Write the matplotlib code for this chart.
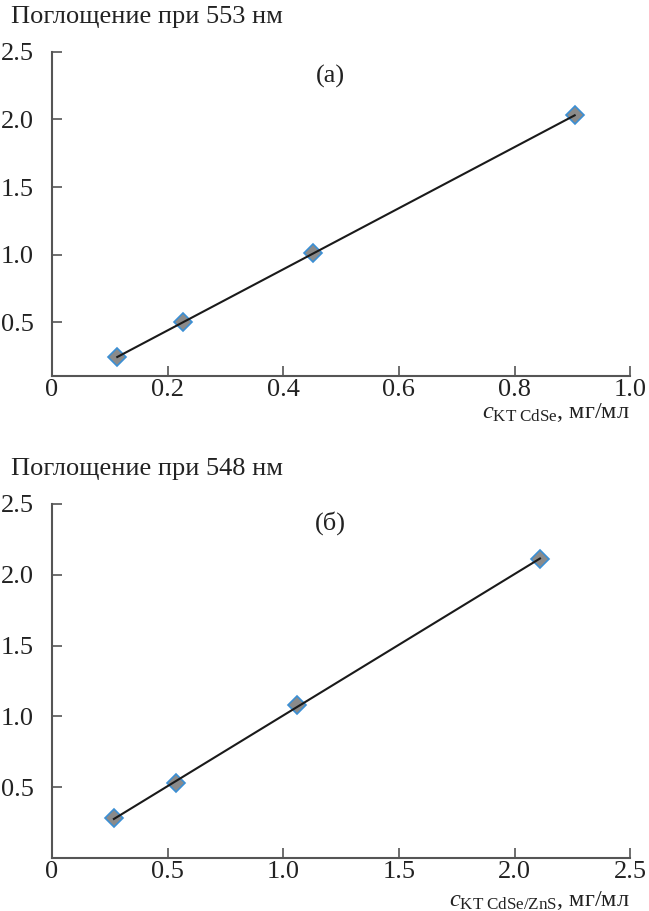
import matplotlib
matplotlib.use("Agg")
import matplotlib.pyplot as plt
import numpy as np

# panel (a): CdSe quantum dots
conc_a = [0.113, 0.226, 0.452, 0.904]
absorb_a = [0.24, 0.50, 1.01, 2.03]
# panel (б): CdSe/ZnS quantum dots
conc_b = [0.268, 0.535, 1.06, 2.11]
absorb_b = [0.28, 0.53, 1.08, 2.11]

xticks_a = [0, 0.2, 0.4, 0.6, 0.8, 1.0]
xticks_b = [0, 0.5, 1.0, 1.5, 2.0, 2.5]
yticks = [0.5, 1.0, 1.5, 2.0, 2.5]

plt.rcParams['font.family'] = ['Liberation Serif', 'DejaVu Serif']
plt.rcParams['mathtext.fontset'] = 'custom'
plt.rcParams['mathtext.rm'] = 'Liberation Serif'
plt.rcParams['mathtext.it'] = 'Liberation Serif:italic'

fig = plt.figure(figsize=(6.49, 9.11), dpi=100)
ax1 = fig.add_axes([0.080, 0.587, 0.891, 0.356])
ax2 = fig.add_axes([0.080, 0.058, 0.891, 0.389])

spine_col = '#555555'
txt_col = '#222222'
fs = 19


def draw(ax, x, y, xticks, xlim, ylim, tag, tag_y, ylabel, xlabel, xl_off):
    k, b = np.polyfit(x, y, 1)
    xs = np.array([min(x), max(x)])
    ax.plot(x, y, 'D', ms=9.5, mfc='#8a8a8a', mec='#3b8fd4', mew=1.2, zorder=2)
    ax.plot(xs, k * xs + b, color='#1a1a1a', lw=1.5, zorder=3)
    ax.set_xlim(xlim)
    ax.set_ylim(ylim)
    ax.set_xticks(xticks)
    ax.set_xticklabels(['0'] + ['%.1f' % t for t in xticks[1:]])
    ax.set_yticks(yticks)
    ax.set_yticklabels(['%.1f' % t for t in yticks])
    for s in ['top', 'right']:
        ax.spines[s].set_visible(False)
    for s in ['left', 'bottom']:
        ax.spines[s].set_color(spine_col)
        ax.spines[s].set_linewidth(1.5)
    ax.tick_params(direction='in', length=7, width=1.2, color=spine_col,
                   labelsize=fs, labelcolor=txt_col)
    ax.tick_params(axis='y', pad=13)
    ax.tick_params(axis='x', pad=2)
    ax.text(0.481, tag_y, tag, fontsize=fs, ha='center', va='center',
            color=txt_col, transform=ax.transAxes)
    ax.annotate(ylabel, xy=(0, 1), xycoords='axes fraction',
                xytext=(-41, 35), textcoords='offset pixels',
                fontsize=fs, ha='left', va='center', color=txt_col)
    ax.annotate(xlabel, xy=(1, 0), xycoords='axes fraction',
                xytext=(0, xl_off), textcoords='offset pixels',
                fontsize=17.5, ha='right', va='center', color=txt_col)


draw(ax1, conc_a, absorb_a, xticks_a, (0, 1.0), (0.1, 2.5), '(а)', 0.925,
     'Поглощение при 553 нм', r'$c_{\mathrm{KT\ CdSe}}$, мг/мл', -36)
draw(ax2, conc_b, absorb_b, xticks_b, (0, 2.5), (0.0, 2.5), '(б)', 0.945,
     'Поглощение при 548 нм', r'$c_{\mathrm{KT\ CdSe/ZnS}}$, мг/мл', -42)

fig.savefig('out.png', dpi=100)
